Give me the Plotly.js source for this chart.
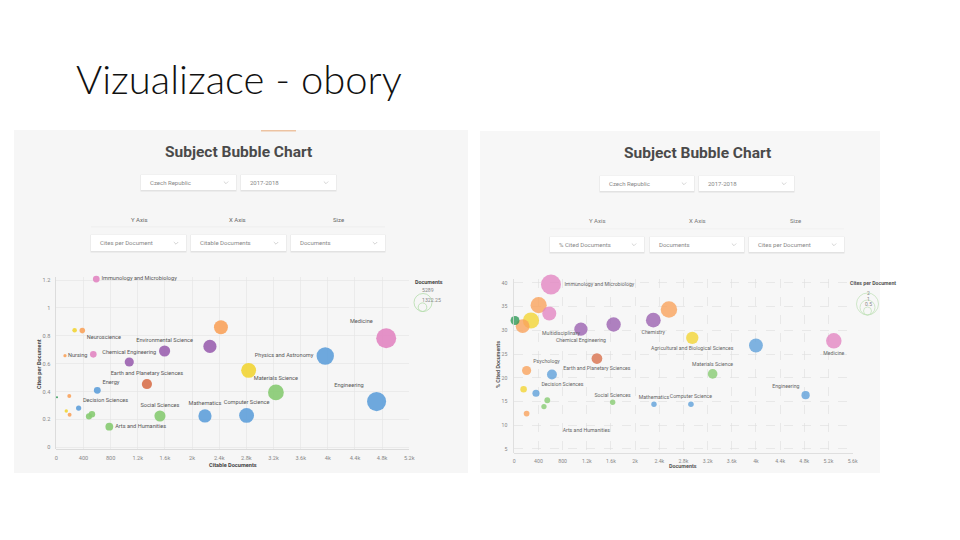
<!DOCTYPE html>
<html>
<head>
<meta charset="utf-8">
<script src="https://cdn.plot.ly/plotly-3.0.1.min.js"></script>
<style>html,body{margin:0;padding:0;background:#fff;}#chart{width:960px;height:540px;}</style>
</head>
<body>
<div id="chart"></div>
<script>
// ---------------- DATA ----------------
const subjects = [
  "Immunology and Microbiology", "Multidisciplinary", "Neuroscience", "", "Nursing",
  "Chemical Engineering", "Environmental Science", "", "Chemistry", "Earth and Planetary Sciences",
  "Energy", "Psychology", "Decision Sciences", "", "",
  "", "", "Arts and Humanities", "Social Sciences", "Mathematics",
  "Computer Science", "Agricultural and Biological Sciences", "Materials Science", "Physics and Astronomy", "Medicine",
  "Engineering", ""
];
const subjectArea = [
  "C", "D", "B", "C", "B",
  "E", "E", "B", "E", "F",
  "A", "B", "A", "D", "B",
  "G", "G", "G", "G", "A",
  "A", "D", "G", "A", "C",
  "A", "H"
];
const citableDocuments = [
  589, 270, 383, 545, 128,
  1075, 1595, 2425, 2263, 1335,
  604, 191, 329, 147, 196,
  481, 525, 781, 1527, 2190,
  2803, 2833, 3235, 3962, 4860,
  4718, 10
];
const citesPerDocument = [
  1.207, 0.839, 0.837, 0.667, 0.657,
  0.612, 0.691, 0.861, 0.724, 0.454,
  0.409, 0.368, 0.282, 0.261, 0.234,
  0.222, 0.237, 0.148, 0.225, 0.225,
  0.229, 0.552, 0.394, 0.655, 0.782,
  0.328, 0.36
];
const documents = [
  607, 276, 403, 579, 138,
  1103, 1644, 2560, 2301, 1368,
  623, 204, 359, 154, 204,
  491, 546, 800, 1628, 2312,
  2924, 2946, 3283, 4000, 5289,
  4822, 12
];
const pctCitedDocuments = [
  39.65, 32.06, 35.29, 33.53, 30.86,
  30.23, 31.22, 34.38, 32.13, 24.05,
  20.67, 21.52, 16.74, 17.58, 12.45,
  13.93, 15.26, 8.8, 14.84, 14.42,
  14.42, 28.40, 20.81, 26.79, 27.77,
  16.32, 32.06
];
// which names are printed on each chart
const shownLeft = [
  "Immunology and Microbiology", "Neuroscience", "Nursing", "Chemical Engineering", "Environmental Science",
  "Earth and Planetary Sciences", "Energy", "Decision Sciences", "Arts and Humanities", "Social Sciences",
  "Mathematics", "Computer Science", "Materials Science", "Physics and Astronomy", "Medicine", "Engineering"
];
const shownRight = [
  "Immunology and Microbiology", "Multidisciplinary", "Chemical Engineering", "Chemistry",
  "Agricultural and Biological Sciences", "Medicine", "Earth and Planetary Sciences", "Psychology",
  "Materials Science", "Decision Sciences", "Social Sciences", "Mathematics", "Computer Science",
  "Engineering", "Arts and Humanities"
];
const xTicksLeft = [0, 400, 800, 1200, 1600, 2000, 2400, 2800, 3200, 3600, 4000, 4400, 4800, 5200];
const xTicksRight = [0, 400, 800, 1200, 1600, 2000, 2400, 2800, 3200, 3600, 4000, 4400, 4800, 5200, 5600];
const sizeLegendLeft = ["5289", "1322.25"];
const sizeLegendRight = ["2", "1", "0.5"];

// ---------------- STYLE ----------------
const areaColor = {A:"#5fa0da", B:"#f9a35c", C:"#e286c2", D:"#f2d535", E:"#9b62b0", F:"#d8714c", G:"#87cb72", H:"#2f9a58"};
const posLeft = {
  "Immunology and Microbiology":"middle right", "Neuroscience":"bottom right", "Nursing":"middle right",
  "Chemical Engineering":"top center", "Environmental Science":"top center", "Earth and Planetary Sciences":"top center",
  "Energy":"top right", "Decision Sciences":"top right", "Arts and Humanities":"middle right",
  "Social Sciences":"top center", "Mathematics":"top center", "Computer Science":"top center",
  "Materials Science":"top center", "Physics and Astronomy":"middle left", "Medicine":"top left", "Engineering":"top left"
};
const posRight = {
  "Immunology and Microbiology":"middle right", "Multidisciplinary":"bottom right", "Chemical Engineering":"bottom center",
  "Chemistry":"bottom center", "Agricultural and Biological Sciences":"bottom center", "Medicine":"bottom center",
  "Earth and Planetary Sciences":"bottom center", "Psychology":"top right", "Materials Science":"top center",
  "Decision Sciences":"top right", "Social Sciences":"top center", "Mathematics":"top center",
  "Computer Science":"top center", "Engineering":"top left", "Arts and Humanities":"middle right"
};

const W = 960, H = 540;
const px = x => x / W;
const py = y => 1 - y / H;
const FONT = "Roboto, 'Open Sans', sans-serif";

const colors = subjectArea.map(a => areaColor[a]);
const leftText = subjects.map(s => shownLeft.includes(s) ? s : "");
const rightText = subjects.map(s => shownRight.includes(s) ? s : "");
const leftPos = subjects.map(s => posLeft[s] || "middle right");
const rightPos = subjects.map(s => posRight[s] || "middle right");

// right chart size scale: sqrt over [min,max] of cites per document
const cMin = Math.min(...citesPerDocument), cMax = Math.max(...citesPerDocument);
const rightSizes = citesPerDocument.map(v => 20 * Math.sqrt((v - cMin) / (cMax - cMin)));
const docMax = Math.max(...documents);

const traces = [
  {
    type: "scatter", mode: "markers+text", xaxis: "x", yaxis: "y",
    x: citableDocuments, y: citesPerDocument, text: leftText, textposition: leftPos,
    textfont: {family: FONT, size: 5.6, color: "#555"},
    marker: {size: documents, sizemode: "area", sizeref: docMax / 200, sizemin: 1, color: colors, opacity: 0.9, line: {width: 0}},
    cliponaxis: false, hoverinfo: "skip", showlegend: false
  },
  {
    type: "scatter", mode: "markers+text", xaxis: "x2", yaxis: "y2",
    x: documents, y: pctCitedDocuments, text: rightText, textposition: rightPos,
    textfont: {family: FONT, size: 5.2, color: "#666"},
    marker: {size: rightSizes, sizemode: "diameter", sizemin: 1, color: colors, opacity: 0.8, line: {width: 0}},
    cliponaxis: false, hoverinfo: "skip", showlegend: false
  }
];

// ---------------- DECORATION ----------------
const shapes = [];
const annotations = [];
function rect(x0, y0, x1, y1, fill, line) {
  shapes.push({type: "rect", xref: "paper", yref: "paper", x0: px(x0), x1: px(x1), y0: py(y1), y1: py(y0),
    fillcolor: fill, line: line || {width: 0}, layer: "below"});
}
function txt(x, y, s, opts) {
  annotations.push(Object.assign({xref: "paper", yref: "paper", x: px(x), y: py(y), text: s, showarrow: false,
    xanchor: "center", yanchor: "middle", font: {family: FONT, size: 6, color: "#777"}}, opts || {}));
}
function circle(cx, cy, r, color) {
  shapes.push({type: "circle", xref: "paper", yref: "paper", x0: px(cx - r), x1: px(cx + r), y0: py(cy + r), y1: py(cy - r),
    line: {color: color, width: 0.8}, fillcolor: "rgba(0,0,0,0)", layer: "above"});
}
function dropdown(x0, y0, x1, y1, label) {
  rect(x0 - 0.5, y0 - 0.3, x1 + 0.5, y1 + 1.5, "#e2e2e2");
  rect(x0, y0, x1, y1, "#ffffff");
  const cx = x1 - 10, cy = (y0 + y1) / 2;
  shapes.push({type: "path", xref: "paper", yref: "paper",
    path: `M ${px(cx - 2.2)} ${py(cy - 1)} L ${px(cx)} ${py(cy + 1.2)} L ${px(cx + 2.2)} ${py(cy - 1)}`,
    line: {color: "#c9c9c9", width: 0.8}, layer: "below"});
  txt(x0 + 7, cy, label, {xanchor: "left", font: {family: FONT, size: 6, color: "#888"}});
}

// panels
rect(14, 130, 468, 473, "#f6f6f6");
rect(480, 131, 880, 473, "#f7f7f7");
rect(261, 130, 296, 131.6, "#edc3a2");

// slide title
txt(74, 79, "Vizualizace - obory", {xanchor: "left", font: {family: "Lato, 'Open Sans', sans-serif", size: 40, color: "#111", weight: 300}});

// panel titles
txt(238, 152, "Subject Bubble Chart", {font: {family: FONT, size: 15.5, color: "#4a4a4a", weight: 700}});
txt(697, 153, "Subject Bubble Chart", {font: {family: FONT, size: 15.5, color: "#4a4a4a", weight: 700}});

// left controls
dropdown(141, 175, 236, 190, "Czech Republic");
dropdown(241, 175, 336, 190, "2017-2018");
txt(139, 219, "Y Axis", {font: {family: FONT, size: 6, color: "#666"}});
txt(237, 219, "X Axis", {font: {family: FONT, size: 6, color: "#666"}});
txt(338, 219, "Size", {font: {family: FONT, size: 6, color: "#666"}});
rect(91, 226.5, 385, 227.2, "#ececec");
dropdown(91, 235, 186, 251, "Cites per Document");
dropdown(191, 235, 286, 251, "Citable Documents");
dropdown(291, 235, 385, 251, "Documents");

// right controls
dropdown(600, 176, 694, 191, "Czech Republic");
dropdown(699, 176, 794, 191, "2017-2018");
txt(597, 221, "Y Axis", {font: {family: FONT, size: 6, color: "#777"}});
txt(697, 221, "X Axis", {font: {family: FONT, size: 6, color: "#777"}});
txt(795, 221, "Size", {font: {family: FONT, size: 6, color: "#777"}});
rect(550, 228.5, 844, 229.2, "#efefef");
dropdown(550, 237, 644, 252, "% Cited Documents");
dropdown(650, 237, 744, 252, "Documents");
dropdown(749, 237, 844, 252, "Cites per Document");

// axis titles
txt(233, 465, "Citable Documents", {font: {family: FONT, size: 5.6, color: "#444", weight: 700}});
txt(39, 364, "Cites per Document", {textangle: -90, font: {family: FONT, size: 5.6, color: "#444", weight: 700}});
txt(683, 466, "Documents", {font: {family: FONT, size: 5.4, color: "#555", weight: 700}});
txt(498, 365, "% Cited Documents", {textangle: -90, font: {family: FONT, size: 5.4, color: "#555", weight: 700}});

// size legends
txt(413, 282, "Documents", {xanchor: "left", font: {family: FONT, size: 5.4, color: "#444", weight: 700}});
txt(428, 290, sizeLegendLeft[0], {font: {family: FONT, size: 5.2, color: "#888"}});
txt(431, 299.5, sizeLegendLeft[1], {font: {family: FONT, size: 5.2, color: "#888"}});
circle(423, 302.5, 9, "#b4dcab");
circle(422.5, 307.2, 4.3, "#b4dcab");

txt(848, 283, "Cites per Document", {xanchor: "left", font: {family: FONT, size: 5.2, color: "#555", weight: 700}});
txt(868, 292.5, sizeLegendRight[0], {font: {family: FONT, size: 5, color: "#888"}});
txt(868, 298.5, sizeLegendRight[1], {font: {family: FONT, size: 5, color: "#888"}});
txt(868, 304, sizeLegendRight[2], {font: {family: FONT, size: 5, color: "#888"}});
circle(867.5, 304, 11, "#c4e2bd");
circle(867.5, 307.5, 7.5, "#c4e2bd");
circle(867.5, 311, 4, "#c4e2bd");

const tickFont = {family: FONT, size: 5.6, color: "#888"};
const layout = {
  width: W, height: H,
  margin: {l: 0, r: 0, t: 0, b: 0},
  paper_bgcolor: "#ffffff", plot_bgcolor: "rgba(0,0,0,0)",
  showlegend: false,
  font: {family: FONT},
  xaxis: {
    domain: [px(56.3), px(409.3)], anchor: "y", range: [0, 5200],
    tickmode: "array", tickvals: xTicksLeft, tickformat: "~s",
    tickfont: tickFont, ticks: "", ticklabelstandoff: 3,
    showgrid: true, gridcolor: "#e4e4e4", gridwidth: 0.6, zeroline: false,
    showline: true, linecolor: "#d6d6d6", linewidth: 0.8, fixedrange: true
  },
  yaxis: {
    domain: [py(449.3), py(277)], anchor: "x", range: [-0.014, 1.2215],
    tick0: 0, dtick: 0.2, tickfont: tickFont, ticks: "", ticklabelstandoff: 4,
    showgrid: true, gridcolor: "#e4e4e4", gridwidth: 0.6, zeroline: false,
    showline: true, linecolor: "#d6d6d6", linewidth: 0.8, fixedrange: true
  },
  xaxis2: {
    domain: [px(514.3), px(852.6)], anchor: "y2", range: [0, 5600],
    tickmode: "array", tickvals: xTicksRight, tickformat: "~s",
    tickfont: {family: FONT, size: 5.2, color: "#888"}, ticks: "", ticklabelstandoff: 3,
    showgrid: true, gridcolor: "#dedede", gridwidth: 0.6, griddash: "dash", zeroline: false,
    showline: true, linecolor: "#d8d8d8", linewidth: 0.8, fixedrange: true
  },
  yaxis2: {
    domain: [py(453.3), py(279)], anchor: "x2", range: [4.08, 40.8],
    tick0: 0, dtick: 5, tickfont: {family: FONT, size: 5.2, color: "#888"}, ticks: "", ticklabelstandoff: 5,
    showgrid: true, gridcolor: "#dedede", gridwidth: 0.6, griddash: "dash", zeroline: false,
    showline: true, linecolor: "#d8d8d8", linewidth: 0.8, fixedrange: true
  },
  shapes: shapes,
  annotations: annotations
};

Plotly.newPlot("chart", traces, layout, {displayModeBar: false, staticPlot: true});
</script>
</body>
</html>
